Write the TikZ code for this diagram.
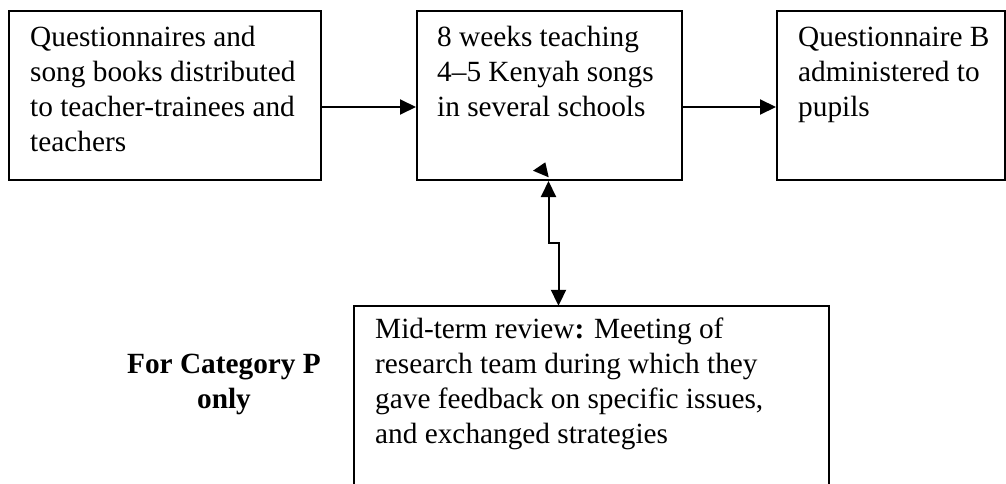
\documentclass[tikz,border=0pt]{standalone}
\usepackage{fontspec}
\setmainfont{Liberation Serif}
\usetikzlibrary{arrows.meta}
\newcommand{\boxtext}[2]{\parbox[t]{#1}{\raggedright\fontsize{29.3}{35}\selectfont #2}}
\begin{document}
\begin{tikzpicture}[x=1pt,y=-1pt,
  stepbox/.style={draw=black, line width=2pt, rectangle, inner sep=0pt},
  lbl/.style={inner sep=0pt, anchor=base west},
  arr/.style={line width=2pt, -{Triangle[length=16pt,width=15pt]}},
  darr/.style={line width=2pt, {Triangle[length=16pt,width=15pt]}-{Triangle[length=16pt,width=15pt]}}]
\useasboundingbox (0,0) rectangle (1006,484);
\fill[white] (0,0) rectangle (1006,484);
% boxes
\node[stepbox, minimum width=312pt, minimum height=169pt] (b1) at (165,95.5) {};
\node[stepbox, minimum width=265pt, minimum height=169pt] (b2) at (549.5,95.5) {};
\node[stepbox, minimum width=228pt, minimum height=169pt] (b3) at (891,95.5) {};
\node[rectangle, inner sep=0pt, minimum width=475pt, minimum height=178pt] (mid) at (591.5,395) {};
\draw[line width=2pt] (mid.south west) |- (mid.north east) -- (mid.south east);
% texts
\node[lbl] (t1) at (30,47) {\boxtext{300pt}{Questionnaires and\\song books distributed\\to teacher-trainees and\\teachers}};
\node[lbl] (t2) at (437,47) {\boxtext{250pt}{8 weeks teaching\\4--5 Kenyah songs\\in several schools}};
\node[lbl] (t3) at (798,47) {\boxtext{210pt}{Questionnaire B\\administered to\\pupils}};
\node[lbl] (t4) at (375,338) {\boxtext{450pt}{Mid-term review\textbf{:} Meeting of\\research team during which they\\gave feedback on specific issues,\\and exchanged strategies}};
\node[inner sep=0pt, anchor=base] (cat) at (224,373) {\parbox[t]{240pt}{\centering\fontsize{29.3}{35}\selectfont\bfseries For Category P\\only}};
% connectors
\draw[arr] ([yshift=-11.5pt]b1.east) -- ([yshift=-11.5pt]b2.west);
\draw[arr] ([yshift=-11.5pt]b2.east) -- ([yshift=-11.5pt]b3.west);
\draw[darr] ([xshift=-1pt]b2.south) -- ++(0,62) -- ++(10,0) -- ([xshift=-33pt]mid.north);
\fill (533,170.7) -- (545.3,162.3) -- (548.7,177.3) -- cycle;
\end{tikzpicture}
\end{document}
